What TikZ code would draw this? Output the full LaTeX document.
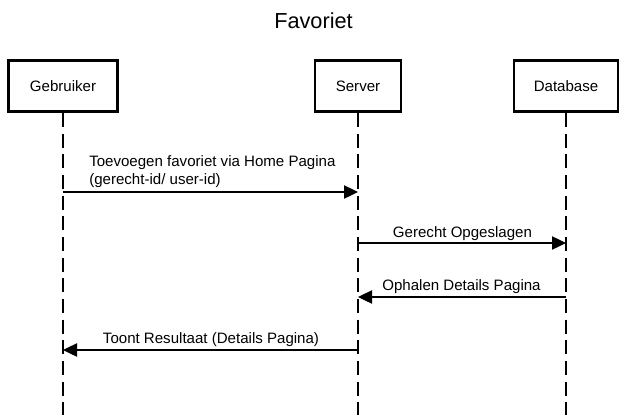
\documentclass[tikz,border=0pt]{standalone}
\usepackage{fontspec}
\setmainfont{Liberation Sans}
\usetikzlibrary{arrows.meta}
\tikzset{
  every picture/.style={font=\fontsize{11.3}{13.5}\selectfont, line join=miter, >={Triangle[length=10.5pt,width=10pt]}},
  actor/.style={draw, line width=2pt, minimum height=38.5pt, inner sep=0pt},
  lifeline/.style={line width=0.9pt, dash pattern=on 10.5pt off 5pt},
  msg/.style={->, line width=0.9pt},
  msglabel/.style={anchor=base, inner sep=0pt},
}
\begin{document}
\begin{tikzpicture}[x=0.75pt,y=-0.75pt]
\useasboundingbox (0,0) rectangle (628,415);
\node[anchor=base, font=\fontsize{16.3}{19}\selectfont] (title) at (313.5,28) {Favoriet};
\node[actor, minimum width=82pt] (user) at (63,86) {Gebruiker};
\node[actor, minimum width=64.5pt] (server) at (358,86) {Server};
\node[actor, minimum width=78pt] (db) at (566,86) {Database};
% lifelines
\coordinate (userend) at (63,415);
\coordinate (serverend) at (358,415);
\coordinate (dbend) at (566,415);
\draw[lifeline] (user.south) -- (userend);
\draw[lifeline] (server.south) -- (serverend);
\draw[lifeline] (db.south) -- (dbend);
% messages
\coordinate (m1a) at (63,192); \coordinate (m1b) at (358,192);
\coordinate (m2a) at (358,243); \coordinate (m2b) at (566,243);
\coordinate (m3a) at (566,297); \coordinate (m3b) at (358,297);
\coordinate (m4a) at (358,350); \coordinate (m4b) at (63,350);
\draw[msg] (m1a) -- (m1b);
\node[anchor=base west, align=left, inner sep=0pt] (l1) at (89,184.5) {Toevoegen favoriet via Home Pagina\\(gerecht-id/ user-id)};
\draw[msg] (m2a) -- (m2b);
\node[msglabel] (l2) at (462.5,237) {Gerecht Opgeslagen};
\draw[msg] (m3a) -- (m3b);
\node[msglabel] (l3) at (461.5,290.5) {Ophalen Details Pagina};
\draw[msg] (m4a) -- (m4b);
\node[msglabel] (l4) at (211,343.5) {Toont Resultaat (Details Pagina)};
\end{tikzpicture}
\end{document}
